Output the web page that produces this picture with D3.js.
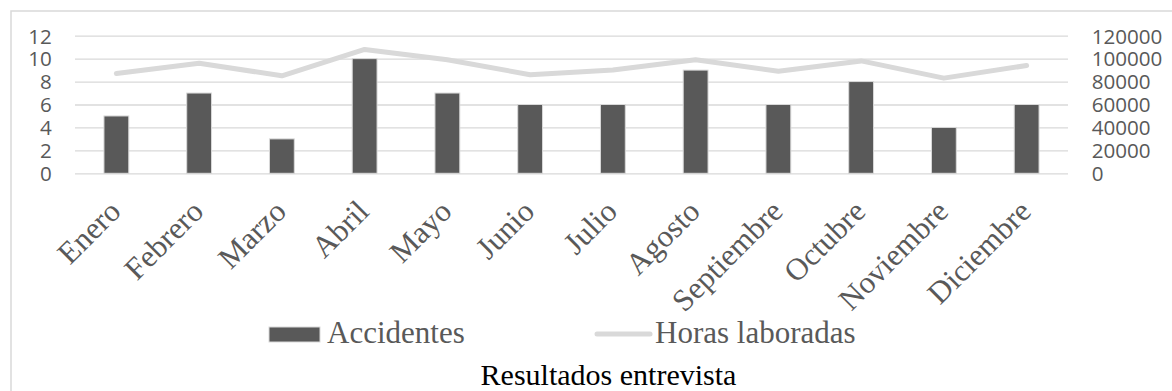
<!DOCTYPE html>
<html>
<head>
<meta charset="utf-8">
<script src="https://cdn.jsdelivr.net/npm/d3@7"></script>
<style>
  html, body { margin: 0; padding: 0; background: #ffffff; }
  svg { display: block; }
</style>
</head>
<body>
<svg id="chart" width="1172" height="391"></svg>
<script>
// Monthly accidents (bars, left axis) against hours worked (line, right axis)
const meses = ["Enero", "Febrero", "Marzo", "Abril", "Mayo", "Junio", "Julio",
               "Agosto", "Septiembre", "Octubre", "Noviembre", "Diciembre"];
const accidentes = [5, 7, 3, 10, 7, 6, 6, 9, 6, 8, 4, 6];
const horasLaboradas = [87000, 96000, 85000, 108000, 99000, 86000, 90000,
                        99000, 89000, 98000, 83000, 94000];
const ticksAccidentes = [0, 2, 4, 6, 8, 10, 12];
const ticksHoras = [0, 20000, 40000, 60000, 80000, 100000, 120000];
const serieNombres = ["Accidentes", "Horas laboradas"];
const titulo = "Resultados entrevista";

const svg = d3.select("#chart");
const sansFont = "'Open Sans', 'Noto Sans', sans-serif";
const serifFont = "'Liberation Serif', 'Times New Roman', serif";
const textGray = "#595959";
const lineGray = "#d9d9d9";

const plot = { left: 75, right: 1068, top: 35.7, bottom: 173.3 };

// outer chart frame
svg.append("rect")
  .attr("x", 11).attr("y", 11)
  .attr("width", 1200).attr("height", 420)
  .attr("fill", "none")
  .attr("stroke", lineGray)
  .attr("stroke-width", 1.5);

const x = d3.scaleBand()
  .domain(meses)
  .range([plot.left, plot.right])
  .paddingInner(0.7)
  .paddingOuter(0.35);

const yL = d3.scaleLinear().domain([0, 12]).range([plot.bottom, plot.top]);
const yR = d3.scaleLinear().domain([0, 120000]).range([plot.bottom, plot.top]);

// left axis with gridlines
const axL = svg.append("g")
  .attr("transform", `translate(${plot.left},0)`)
  .call(d3.axisLeft(yL)
    .tickValues(ticksAccidentes)
    .tickSizeInner(-(plot.right - plot.left))
    .tickSizeOuter(0)
    .tickPadding(23.3)
    .tickFormat(d3.format("d")));
axL.select(".domain").remove();
axL.selectAll(".tick line").attr("stroke", lineGray).attr("stroke-width", 1.3);
axL.selectAll(".tick text")
  .attr("fill", textGray)
  .style("font-family", sansFont)
  .style("font-size", "20.6px")
  .attr("dy", "0.357em");

// right axis
const axR = svg.append("g")
  .attr("transform", `translate(${plot.right},0)`)
  .call(d3.axisRight(yR)
    .tickValues(ticksHoras)
    .tickSize(0)
    .tickPadding(23.7)
    .tickFormat(d3.format("d")));
axR.select(".domain").remove();
axR.selectAll(".tick text")
  .attr("fill", textGray)
  .style("font-family", sansFont)
  .style("font-size", "20.6px")
  .attr("dy", "0.357em");

// category axis, rotated month labels
const axX = svg.append("g")
  .attr("transform", `translate(0,${plot.bottom})`)
  .call(d3.axisBottom(x).tickSize(0).tickPadding(0));
axX.select(".domain").remove();
axX.selectAll(".tick text")
  .attr("fill", textGray)
  .style("font-family", serifFont)
  .style("font-size", "31px")
  .attr("text-anchor", "end")
  .attr("dy", null)
  .attr("y", null)
  .attr("transform", "translate(6,40) rotate(-45)");

// bars: accidents
svg.append("g")
  .selectAll("rect")
  .data(accidentes)
  .join("rect")
  .attr("x", (d, i) => x(meses[i]))
  .attr("y", d => yL(d))
  .attr("width", x.bandwidth())
  .attr("height", d => yL(0) - yL(d))
  .attr("fill", "#595959")
  .attr("stroke", lineGray)
  .attr("stroke-width", 1);

// line: hours worked
const line = d3.line()
  .x((d, i) => x(meses[i]) + x.bandwidth() / 2)
  .y(d => yR(d));
svg.append("path")
  .datum(horasLaboradas)
  .attr("d", line)
  .attr("fill", "none")
  .attr("stroke", lineGray)
  .attr("stroke-width", 5)
  .attr("stroke-linejoin", "round")
  .attr("stroke-linecap", "round");

// legend
const legend = svg.append("g");
legend.append("rect")
  .attr("x", 269).attr("y", 327)
  .attr("width", 51).attr("height", 15)
  .attr("fill", "#595959")
  .attr("stroke", lineGray)
  .attr("stroke-width", 1);
legend.append("text")
  .attr("x", 327).attr("y", 343)
  .attr("fill", textGray)
  .style("font-family", serifFont)
  .style("font-size", "31px")
  .text(serieNombres[0]);
legend.append("line")
  .attr("x1", 597).attr("x2", 650)
  .attr("y1", 334).attr("y2", 334)
  .attr("stroke", lineGray)
  .attr("stroke-width", 5)
  .attr("stroke-linecap", "round");
legend.append("text")
  .attr("x", 655).attr("y", 343)
  .attr("fill", textGray)
  .style("font-family", serifFont)
  .style("font-size", "31px")
  .text(serieNombres[1]);

// title below the chart
svg.append("text")
  .attr("x", 608.5).attr("y", 385)
  .attr("text-anchor", "middle")
  .attr("fill", "#000000")
  .style("font-family", serifFont)
  .style("font-size", "30px")
  .text(titulo);
</script>
</body>
</html>
